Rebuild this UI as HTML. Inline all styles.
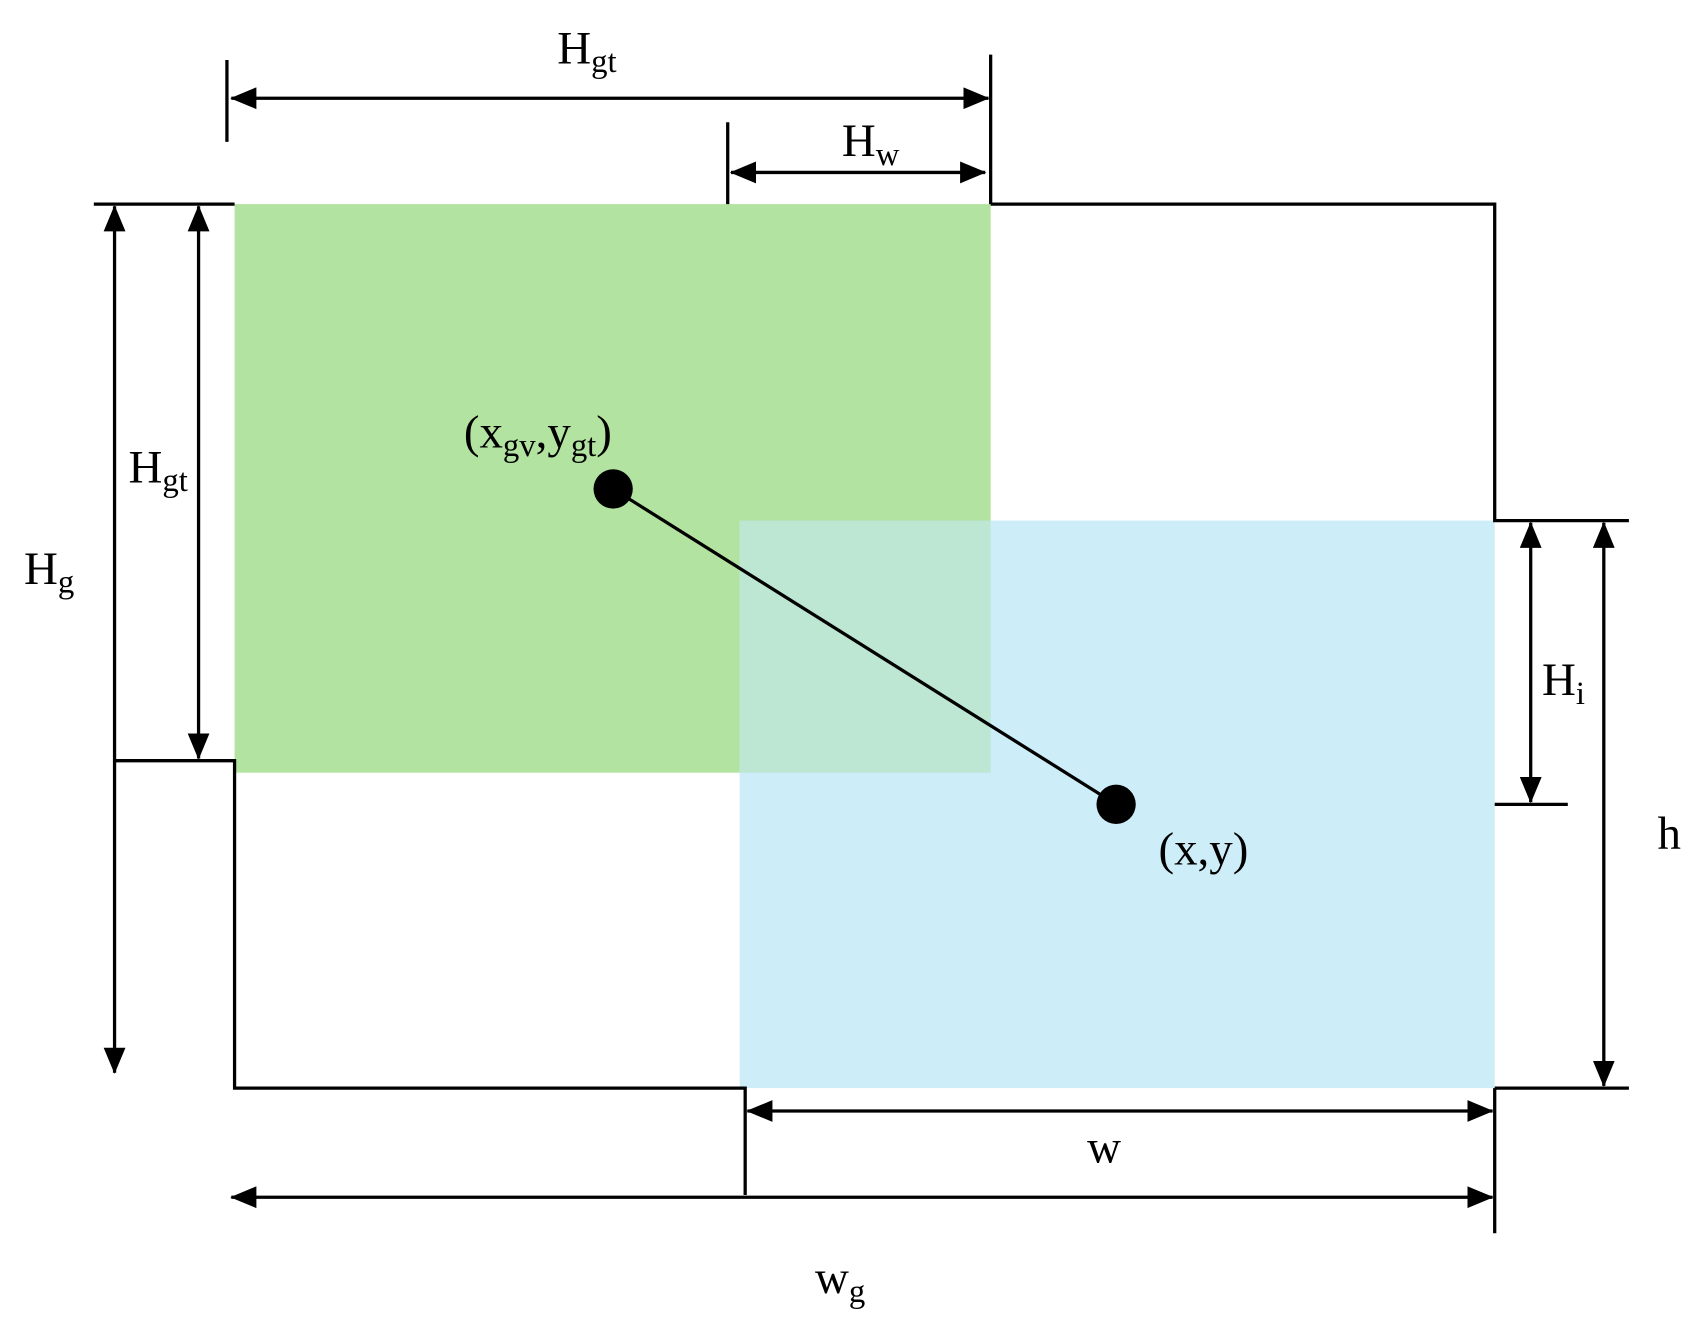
<!DOCTYPE html>
<html><head><style>html,body{margin:0;padding:0;background:#fff}svg{display:block}</style></head>
<body>
<svg width="1702" height="1326" viewBox="0 0 1560 1215" preserveAspectRatio="none" xmlns="http://www.w3.org/2000/svg" font-family="Liberation Serif, serif" font-size="43" fill="#000">
<defs>
<marker id="a" viewBox="0 0 24 20" refX="23" refY="10" markerWidth="24" markerHeight="20" orient="auto-start-reverse" markerUnits="userSpaceOnUse">
<path d="M0,0 L24,10 L0,20 z"/>
</marker>
</defs>
<rect x="215" y="187" width="693" height="521" fill="#b3e3a0"/>
<rect x="678" y="477" width="692" height="520" fill="#cdedf8"/>
<rect x="678" y="477" width="230" height="231" fill="#bde6d3"/>
<g stroke="#000" stroke-width="3" fill="none">
<path d="M86,187 H215 M908,187 H1370 V477 H1493"/>
<path d="M106,697 H215 V997 H683 V1095"/>
<path d="M1370,997 H1493 M1370,997 V1130 M1370,737 H1437"/>
<path d="M208,55 V130 M908,50 V187 M667,112 V187"/>
<line x1="562" y1="448" x2="1023" y2="737"/>
</g>
<g stroke="#000" stroke-width="3" marker-start="url(#a)" marker-end="url(#a)">
<line x1="212" y1="90" x2="906" y2="90"/>
<line x1="670" y1="158" x2="903" y2="158"/>
<line x1="105" y1="189" x2="105" y2="983"/>
<line x1="182" y1="189" x2="182" y2="695"/>
<line x1="1403" y1="479" x2="1403" y2="735"/>
<line x1="1470" y1="479" x2="1470" y2="995"/>
<line x1="685" y1="1018" x2="1368" y2="1018"/>
<line x1="212" y1="1097" x2="1368" y2="1097"/>
</g>
<circle cx="562" cy="448" r="18"/>
<circle cx="1023" cy="737" r="18"/>
<g text-anchor="middle">
<text x="538" y="58">H<tspan font-size="30" dy="8">gt</tspan></text>
<text x="798" y="143">H<tspan font-size="30" dy="8">w</tspan></text>
<text x="145" y="442">H<tspan font-size="30" dy="8">gt</tspan></text>
<text x="45" y="535">H<tspan font-size="30" dy="8">g</tspan></text>
<text x="493" y="410">(x<tspan font-size="30" dy="8">gv</tspan><tspan dy="-8">,y</tspan><tspan font-size="30" dy="8">gt</tspan><tspan dy="-8">)</tspan></text>
<text x="1433" y="637">H<tspan font-size="30" dy="8">i</tspan></text>
<text x="1530" y="778">h</text>
<text x="1103" y="792">(x,y)</text>
<text x="1012" y="1065">w</text>
<text x="770" y="1185">w<tspan font-size="30" dy="8">g</tspan></text>
</g>
</svg>
</body></html>
